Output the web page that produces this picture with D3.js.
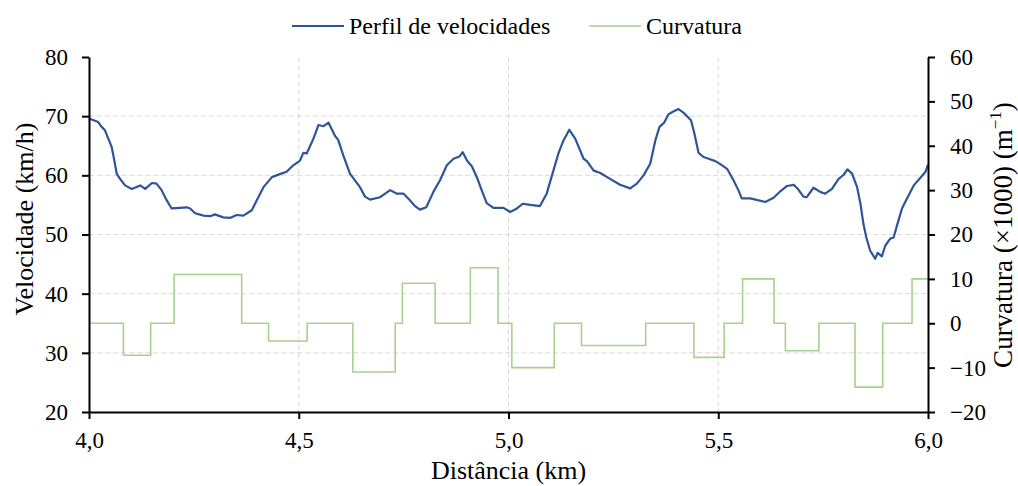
<!DOCTYPE html>
<html>
<head>
<meta charset="utf-8">
<script src="https://cdn.jsdelivr.net/npm/d3@7"></script>
<style>
  html, body { margin: 0; padding: 0; background: #fff; }
  svg { display: block; }
  svg text { font-family: "Liberation Serif", "DejaVu Serif", serif !important; fill: #000; }
</style>
</head>
<body>
<svg id="chart" width="1018" height="486"></svg>
<script>
// Speed profile: distance (km) and speed (km/h)
const speedKm = [4.000, 4.022, 4.030, 4.038, 4.046, 4.054, 4.058, 4.066, 4.074, 4.086, 4.102, 4.122, 4.134, 4.150, 4.161, 4.173, 4.185, 4.197,
  4.217, 4.233, 4.241, 4.253, 4.273, 4.289, 4.300, 4.320, 4.336, 4.352, 4.368, 4.388, 4.400, 4.416, 4.436, 4.455, 4.471, 4.487, 4.503,
  4.511, 4.519, 4.535, 4.547, 4.559, 4.571, 4.587, 4.594, 4.606, 4.622, 4.646, 4.658, 4.670, 4.694, 4.718, 4.734, 4.750, 4.765, 4.777,
  4.789, 4.804, 4.821, 4.837, 4.853, 4.869, 4.883, 4.891, 4.901, 4.913, 4.925, 4.936, 4.948, 4.964, 4.988, 5.004, 5.020, 5.034, 5.052,
  5.075, 5.091, 5.107, 5.119, 5.131, 5.145, 5.159, 5.179, 5.187, 5.203, 5.219, 5.242, 5.266, 5.290, 5.306, 5.322, 5.338, 5.350, 5.360,
  5.371, 5.381, 5.393, 5.405, 5.417, 5.435, 5.443, 5.453, 5.465, 5.477, 5.493, 5.505, 5.521, 5.536, 5.548, 5.556, 5.576, 5.612, 5.632,
  5.648, 5.664, 5.680, 5.691, 5.703, 5.711, 5.727, 5.743, 5.755, 5.771, 5.787, 5.799, 5.808, 5.819, 5.831, 5.839, 5.846, 5.853, 5.862,
  5.874, 5.880, 5.890, 5.898, 5.910, 5.918, 5.926, 5.938, 5.950, 5.966, 5.982, 5.994, 6.000];
const speedKmh = [69.6, 69.0, 68.2, 67.6, 66.2, 64.8, 63.4, 60.3, 59.4, 58.3, 57.7, 58.3, 57.7, 58.7, 58.6, 57.5, 55.8, 54.4,
  54.5, 54.6, 54.4, 53.6, 53.2, 53.1, 53.4, 52.9, 52.8, 53.3, 53.2, 54.1, 55.8, 58.0, 59.7, 60.2, 60.6, 61.7, 62.5,
  63.8, 63.7, 66.2, 68.5, 68.3, 68.9, 66.6, 66.0, 63.4, 60.3, 58.0, 56.4, 55.9, 56.3, 57.5, 56.9, 56.9, 55.8, 54.8,
  54.2, 54.6, 57.2, 59.2, 61.7, 62.8, 63.2, 63.9, 62.5, 61.5, 59.6, 57.5, 55.3, 54.5, 54.5, 53.8, 54.4, 55.2, 55.0,
  54.8, 56.9, 60.8, 63.7, 65.9, 67.7, 66.2, 62.8, 62.4, 60.8, 60.4, 59.4, 58.4, 57.8, 58.6, 60.0, 62.0, 65.9, 68.2,
  68.9, 70.3, 70.8, 71.2, 70.6, 69.3, 67.1, 63.8, 63.1, 62.8, 62.4, 61.9, 61.1, 59.2, 57.5, 56.1, 56.1, 55.5, 56.2,
  57.3, 58.2, 58.4, 57.6, 56.4, 56.3, 57.9, 57.2, 56.9, 57.7, 59.4, 60.1, 61.0, 60.3, 58.0, 55.2, 51.8, 49.5, 47.3,
  45.9, 46.9, 46.3, 48.1, 49.3, 49.5, 51.5, 54.4, 56.1, 58.3, 59.6, 60.6, 61.8];

// Curvature (x1000, 1/m): piecewise constant, each value holds until the next break
const curvKm = [4.000, 4.082, 4.147, 4.203, 4.364, 4.428, 4.520, 4.629, 4.730, 4.747, 4.825, 4.909, 4.975, 5.008, 5.109,
  5.174, 5.327, 5.442, 5.514, 5.558, 5.633, 5.660, 5.740, 5.826, 5.892, 5.962, 6.000];
const curvVal = [0, -7.2, 0, 11, 0, -4, 0, -11, 0, 9, 0, 12.5, 0, -10, 0,
  -5, 0, -7.7, 0, 10, 0, -6.2, 0, -14.4, 0, 10, 10];

// Axis ticks and labels
const xTicks = [4.0, 4.5, 5.0, 5.5, 6.0];
const ySpeedTicks = [20, 30, 40, 50, 60, 70, 80];
const yCurvTicks = [-20, -10, 0, 10, 20, 30, 40, 50, 60];
const seriesNames = ["Perfil de velocidades", "Curvatura"];
const colors = { speed: "#2f5597", curv: "#a9d18e" };
const FONT = "'Liberation Serif', 'DejaVu Serif', serif";

const svg = d3.select("#chart");
const plot = { left: 89, right: 928, top: 57, bottom: 412 };

const x = d3.scaleLinear().domain([4, 6]).range([plot.left, plot.right]);
const yL = d3.scaleLinear().domain([20, 80]).range([plot.bottom, plot.top]);
const yR = d3.scaleLinear().domain([-20, 60]).range([plot.bottom, plot.top]);

const fmt = d => d3.format(".1f")(d).replace(".", ",");

// Gridlines
const grid = svg.append("g").attr("stroke", "#d9d9d9").attr("stroke-width", 1).attr("stroke-dasharray", "5,3");
grid.selectAll(".gy").data(ySpeedTicks.filter(d => d > 20 && d < 80)).join("line")
  .attr("x1", plot.left).attr("x2", plot.right)
  .attr("y1", d => yL(d)).attr("y2", d => yL(d));
grid.selectAll(".gx").data(xTicks.filter(d => d > 4 && d < 6)).join("line")
  .attr("y1", plot.top).attr("y2", plot.bottom)
  .attr("x1", d => x(d)).attr("x2", d => x(d));

// Curvature step line
const curvData = curvKm.map((k, i) => [k, curvVal[i]]);
svg.append("path").datum(curvData)
  .attr("fill", "none").attr("stroke", colors.curv).attr("stroke-width", 1.6)
  .attr("d", d3.line().x(d => x(d[0])).y(d => yR(d[1])).curve(d3.curveStepAfter));

// Speed profile line
const speedData = speedKm.map((k, i) => [k, speedKmh[i]]);
svg.append("path").datum(speedData)
  .attr("fill", "none").attr("stroke", colors.speed).attr("stroke-width", 2.2)
  .attr("stroke-linejoin", "round")
  .attr("d", d3.line().x(d => x(d[0])).y(d => yL(d[1])));

// Axes
function styleAxis(g) {
  g.attr("font-family", FONT).attr("font-size", 23);
  g.selectAll(".domain").attr("stroke", "#000").attr("stroke-width", 2);
  g.selectAll(".tick line").attr("stroke", "#000").attr("stroke-width", 2);
  g.selectAll(".tick text").attr("font-family", FONT).attr("font-size", 23).attr("fill", "#000");
}
svg.append("g").attr("transform", `translate(${plot.left},0)`)
  .call(d3.axisLeft(yL).tickValues(ySpeedTicks).tickSize(7).tickSizeOuter(0).tickPadding(14))
  .call(styleAxis);
svg.append("g").attr("transform", `translate(${plot.right},0)`)
  .call(d3.axisRight(yR).tickValues(yCurvTicks).tickSize(7).tickSizeOuter(0).tickPadding(15).tickFormat(d3.format("d")))
  .call(styleAxis);
svg.append("g").attr("transform", `translate(0,${plot.bottom})`)
  .call(d3.axisBottom(x).tickValues(xTicks).tickSize(7).tickSizeOuter(0).tickPadding(13).tickFormat(fmt))
  .call(styleAxis);

// Axis titles
svg.append("text").attr("transform", `translate(33,219) rotate(-90)`)
  .attr("font-family", FONT).attr("text-anchor", "middle").attr("font-size", 26).text("Velocidade (km/h)");
const rt = svg.append("text").attr("transform", `translate(1012,235) rotate(-90)`)
  .attr("font-family", FONT).attr("text-anchor", "middle").attr("font-size", 27);
rt.append("tspan").text("Curvatura (×1000) (m");
rt.append("tspan").attr("dy", -11).attr("font-size", 17).text("−1");
rt.append("tspan").attr("dy", 11).text(")");
svg.append("text").attr("x", (plot.left + plot.right) / 2).attr("y", 479)
  .attr("font-family", FONT).attr("text-anchor", "middle").attr("font-size", 26).text("Distância (km)");

// Legend
const legend = [
  { name: seriesNames[0], color: colors.speed, x: 292, w: 2.2 },
  { name: seriesNames[1], color: colors.curv, x: 589, w: 1.6 }
];
const lg = svg.append("g").selectAll("g").data(legend).join("g");
lg.append("line").attr("x1", d => d.x).attr("x2", d => d.x + 52).attr("y1", 26).attr("y2", 26)
  .attr("stroke", d => d.color).attr("stroke-width", d => d.w);
lg.append("text").attr("x", d => d.x + 57).attr("y", 34)
  .attr("font-family", FONT).attr("font-size", 24).text(d => d.name);
</script>
</body>
</html>
